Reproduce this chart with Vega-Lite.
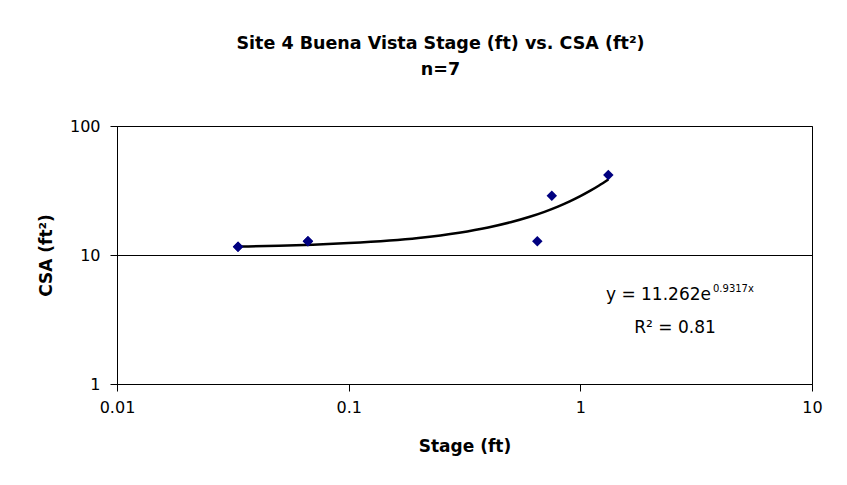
{
  "$schema": "https://vega.github.io/schema/vega-lite/v6.json",
  "width": 695,
  "height": 258,
  "autosize": {"type": "none"},
  "padding": {"left": 117, "top": 126, "right": 35, "bottom": 101},
  "background": "white",
  "config": {
    "view": {"stroke": "black", "strokeWidth": 1},
    "font": "DejaVu Sans",
    "axis": {
      "domainColor": "black",
      "tickColor": "black",
      "labelColor": "black",
      "titleColor": "black",
      "labelFont": "DejaVu Sans",
      "titleFont": "DejaVu Sans",
      "labelFontSize": 16,
      "titleFontSize": 17,
      "titleFontWeight": "bold",
      "tickSize": 7,
      "labelFlush": false,
      "labelOverlap": false,
      "labelBound": false
    }
  },
  "title": {
    "text": ["Site 4 Buena Vista Stage (ft) vs. CSA (ft²)", "n=7"],
    "font": "DejaVu Sans",
    "fontSize": 17.5,
    "fontWeight": "bold",
    "color": "black",
    "lineHeight": 26,
    "anchor": "middle",
    "dx": -24,
    "offset": 40
  },
  "datasets": {
    "points": [
      {"stage": 0.0333, "csa": 11.6},
      {"stage": 0.0333, "csa": 11.6},
      {"stage": 0.0667, "csa": 12.8},
      {"stage": 0.0667, "csa": 12.8},
      {"stage": 0.652, "csa": 12.8},
      {"stage": 0.753, "csa": 28.8},
      {"stage": 1.321, "csa": 41.7}
    ],
    "trend": [
      {"stage": 0.0333, "csa": 11.617},
      {"stage": 0.05, "csa": 11.799},
      {"stage": 0.07, "csa": 12.021},
      {"stage": 0.1, "csa": 12.362},
      {"stage": 0.15, "csa": 12.951},
      {"stage": 0.2, "csa": 13.569},
      {"stage": 0.3, "csa": 14.894},
      {"stage": 0.4, "csa": 16.348},
      {"stage": 0.5, "csa": 17.944},
      {"stage": 0.6, "csa": 19.697},
      {"stage": 0.7, "csa": 21.62},
      {"stage": 0.8, "csa": 23.731},
      {"stage": 0.9, "csa": 26.048},
      {"stage": 1.0, "csa": 28.593},
      {"stage": 1.1, "csa": 31.384},
      {"stage": 1.2, "csa": 34.449},
      {"stage": 1.321, "csa": 38.52}
    ],
    "labels": [
      {"stage": 3.664, "csa": 4.48, "label": "y = 11.262e", "part": "main"},
      {"stage": 3.738, "csa": 5.16, "label": "0.9317x", "part": "sup"},
      {"stage": 2.563, "csa": 2.48, "label": "R² = 0.81", "part": "r2"}
    ]
  },
  "layer": [
    {
      "data": {"name": "trend"},
      "mark": {"type": "line", "color": "black", "strokeWidth": 2.5, "interpolate": "monotone"},
      "encoding": {
        "x": {
          "field": "stage",
          "type": "quantitative",
          "scale": {"type": "log", "domain": [0.01, 10], "nice": false},
          "axis": {
            "title": "Stage (ft)",
            "values": [0.01, 0.1, 1, 10],
            "format": ".2~f",
            "grid": false,
            "labelPadding": 8,
            "titlePadding": 23
          }
        },
        "y": {
          "field": "csa",
          "type": "quantitative",
          "scale": {"type": "log", "domain": [1, 100], "nice": false},
          "axis": {
            "title": "CSA (ft²)",
            "values": [1, 10, 100],
            "format": "d",
            "grid": true,
            "gridColor": "black",
            "gridOpacity": 1,
            "labelPadding": 10,
            "titlePadding": 14
          }
        }
      }
    },
    {
      "data": {"name": "points"},
      "mark": {"type": "point", "shape": "diamond", "filled": true, "color": "#000080", "opacity": 1, "size": 110},
      "encoding": {
        "x": {"field": "stage", "type": "quantitative"},
        "y": {"field": "csa", "type": "quantitative"}
      }
    },
    {
      "data": {"name": "labels"},
      "transform": [{"filter": "datum.part == 'main'"}],
      "mark": {"type": "text", "font": "DejaVu Sans", "fontSize": 17, "color": "black", "align": "right", "baseline": "alphabetic"},
      "encoding": {
        "x": {"field": "stage", "type": "quantitative"},
        "y": {"field": "csa", "type": "quantitative"},
        "text": {"field": "label"}
      }
    },
    {
      "data": {"name": "labels"},
      "transform": [{"filter": "datum.part == 'sup'"}],
      "mark": {"type": "text", "font": "DejaVu Sans", "fontSize": 10, "color": "black", "align": "left", "baseline": "alphabetic"},
      "encoding": {
        "x": {"field": "stage", "type": "quantitative"},
        "y": {"field": "csa", "type": "quantitative"},
        "text": {"field": "label"}
      }
    },
    {
      "data": {"name": "labels"},
      "transform": [{"filter": "datum.part == 'r2'"}],
      "mark": {"type": "text", "font": "DejaVu Sans", "fontSize": 17, "color": "black", "align": "center", "baseline": "alphabetic"},
      "encoding": {
        "x": {"field": "stage", "type": "quantitative"},
        "y": {"field": "csa", "type": "quantitative"},
        "text": {"field": "label"}
      }
    }
  ]
}
